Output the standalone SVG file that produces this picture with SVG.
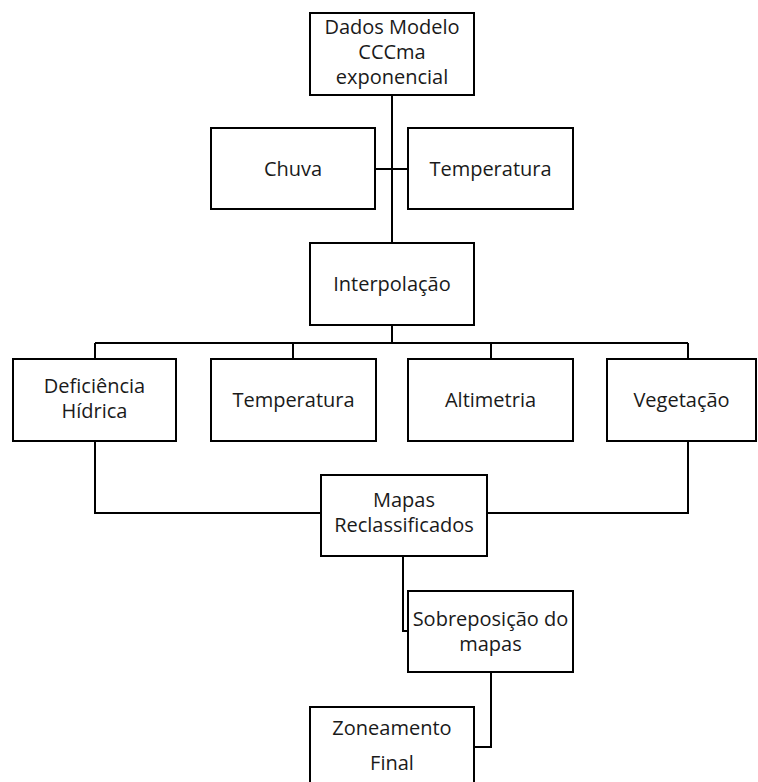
<svg xmlns="http://www.w3.org/2000/svg" width="758" height="782" viewBox="0 0 758 782">
<style>
.box{fill:#fff;stroke:#000;stroke-width:2}
.c{fill:none;stroke:#000;stroke-width:2}
text{font-family:"Open Sans","Noto Sans",sans-serif;font-size:20px;fill:#1a1a1a;text-anchor:middle}
</style>
<rect width="758" height="782" fill="#fff"/>
<g id="connectors">
<path class="c" d="M392,95 V243"/>
<path class="c" d="M375,169 H408"/>
<path class="c" d="M392,325 V343 M95,343 H688 M95,343 V359 M293,343 V359 M491,343 V359 M688,343 V359"/>
<path class="c" d="M95,441 V513 H321"/>
<path class="c" d="M688,441 V513 H487"/>
<path class="c" d="M403,556 V631 H408"/>
<path class="c" d="M491,672 V747 H474"/>
</g>
<g id="dados"><rect class="box" x="310" y="13" width="164" height="82"/><text x="392" y="34">Dados Modelo<tspan x="392" dy="25">CCCma</tspan><tspan x="392" dy="25">exponencial</tspan></text></g>
<g id="chuva"><rect class="box" x="211" y="128" width="164" height="81"/><text x="293" y="176">Chuva</text></g>
<g id="temperatura1"><rect class="box" x="408" y="128" width="165" height="81"/><text x="490.5" y="176">Temperatura</text></g>
<g id="interpolacao"><rect class="box" x="310" y="243" width="164" height="82"/><text x="392" y="291">Interpolação</text></g>
<g id="deficiencia"><rect class="box" x="13" y="359" width="163" height="82"/><text x="94.5" y="393">Deficiência<tspan x="94.5" dy="25">Hídrica</tspan></text></g>
<g id="temperatura2"><rect class="box" x="211" y="359" width="165" height="82"/><text x="293.5" y="407">Temperatura</text></g>
<g id="altimetria"><rect class="box" x="408" y="359" width="165" height="82"/><text x="490.5" y="407">Altimetria</text></g>
<g id="vegetacao"><rect class="box" x="607" y="359" width="149" height="82"/><text x="681.5" y="407">Vegetação</text></g>
<g id="mapas"><rect class="box" x="321" y="475" width="166" height="81"/><text x="404" y="507">Mapas<tspan x="404" dy="25">Reclassificados</tspan></text></g>
<g id="sobreposicao"><rect class="box" x="408" y="591" width="165" height="81"/><text x="490.5" y="626">Sobreposição do<tspan x="490.5" dy="25">mapas</tspan></text></g>
<g id="zoneamento"><rect class="box" x="310" y="707" width="164" height="85"/><text x="392" y="735">Zoneamento<tspan x="392" dy="35">Final</tspan></text></g>
</svg>
